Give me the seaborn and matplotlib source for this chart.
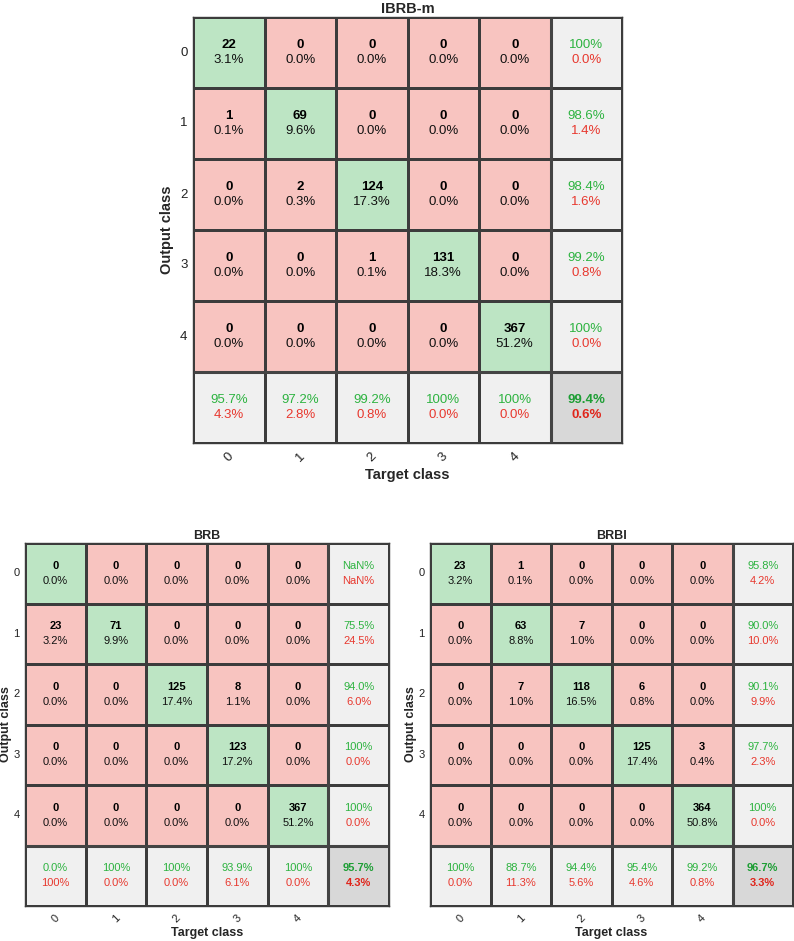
import numpy as np
import matplotlib
matplotlib.use("Agg")
import matplotlib.pyplot as plt
import seaborn as sns
from matplotlib.colors import ListedColormap

sns.set_theme(style="white")
plt.rcParams['font.family'] = ['Liberation Sans', 'DejaVu Sans']

classes = ["0", "1", "2", "3", "4"]

ibrb_m_counts = [
    [22, 0, 0, 0, 0],
    [1, 69, 0, 0, 0],
    [0, 2, 124, 0, 0],
    [0, 0, 1, 131, 0],
    [0, 0, 0, 0, 367],
]
brb_counts = [
    [0, 0, 0, 0, 0],
    [23, 71, 0, 0, 0],
    [0, 0, 125, 8, 0],
    [0, 0, 0, 123, 0],
    [0, 0, 0, 0, 367],
]
brbi_counts = [
    [23, 1, 0, 0, 0],
    [0, 63, 7, 0, 0],
    [0, 7, 118, 6, 0],
    [0, 0, 0, 125, 3],
    [0, 0, 0, 0, 364],
]

GREEN = "#BDE5C4"
PINK = "#F8C4C0"
GRAY = "#F0F0F0"
DGRAY = "#D8D8D8"
TXT_G = "#2DB340"
TXT_R = "#E8382E"


def fmt(p):
    if np.isnan(p):
        return "NaN%"
    if abs(p - 100) < 1e-9:
        return "100%"
    return f"{p:.1f}%"


def draw(ax, counts, title, fs, tfs, lfs, ylpad, xlpad, off):
    c = np.array(counts, dtype=float)
    n = c.shape[0]
    total = c.sum()
    cat = np.full((n + 1, n + 1), 1)
    for i in range(n):
        cat[i, i] = 0
    cat[n, :] = 2
    cat[:, n] = 2
    cat[n, n] = 3
    sns.heatmap(cat, ax=ax, cmap=ListedColormap([GREEN, PINK, GRAY, DGRAY]),
                vmin=-0.5, vmax=3.5, cbar=False, linewidths=0.75,
                linecolor="#3c3c3c", square=False)
    up, dn = 0.5 - off, 0.5 + off

    def pair(x, y, a, b, ca, cb, wa, wb):
        ax.text(x, y + up, a, ha="center", va="center", fontsize=fs, fontweight=wa, color=ca)
        ax.text(x, y + dn, b, ha="center", va="center", fontsize=fs, fontweight=wb, color=cb)

    for i in range(n):
        for j in range(n):
            pair(j + 0.5, i, f"{int(c[i, j])}", fmt(100 * c[i, j] / total),
                 "black", "#111111", "bold", "normal")
    for i in range(n):
        s = c[i, :].sum()
        p = 100 * c[i, i] / s if s > 0 else np.nan
        q = 100 - p if s > 0 else np.nan
        pair(n + 0.5, i, fmt(p), fmt(q), TXT_G, TXT_R, "normal", "normal")
    for j in range(n):
        s = c[:, j].sum()
        p = 100 * c[j, j] / s if s > 0 else np.nan
        q = 100 - p if s > 0 else np.nan
        pair(j + 0.5, n, fmt(p), fmt(q), TXT_G, TXT_R, "normal", "normal")
    acc = 100 * np.trace(c) / total
    pair(n + 0.5, n, fmt(acc), fmt(100 - acc), "#1E9E35", "#E0251B", "bold", "bold")

    ax.axhline(n, color="#444444", lw=2.2)
    ax.axvline(n, color="#444444", lw=2.2)
    for sp in ax.spines.values():
        sp.set_visible(True)
        sp.set_color("#3c3c3c")
        sp.set_linewidth(1.0)
    ax.set_xticks(np.arange(n) + 0.5)
    ax.set_xticklabels(classes, rotation=45, fontsize=tfs, color="#222222")
    ax.set_yticks(np.arange(n) + 0.5)
    ax.set_yticklabels(classes, rotation=0, fontsize=tfs, color="#222222")
    ax.tick_params(axis="y", length=0, pad=4)
    ax.tick_params(axis="x", length=0, pad=5)
    ax.set_title(title, fontsize=lfs, fontweight="bold", pad=3)
    ax.set_xlabel("Target class", fontsize=lfs, fontweight="bold", labelpad=xlpad)
    ax.set_ylabel("Output class", fontsize=lfs, fontweight="bold", labelpad=ylpad)


W, H = 794, 941
fig = plt.figure(figsize=(W / 100, H / 100), dpi=100)
ax1 = fig.add_axes([193 / W, 1 - 443 / H, 429 / W, 426 / H])
ax2 = fig.add_axes([25 / W, 1 - 906 / H, 364 / W, 363 / H])
ax3 = fig.add_axes([430 / W, 1 - 906 / H, 363 / W, 363 / H])

draw(ax1, ibrb_m_counts, "IBRB-m", 9.5, 9.5, 10.5, 4, 3, 0.105)
draw(ax2, brb_counts, "BRB", 8, 8, 9, 1, 2, 0.12)
draw(ax3, brbi_counts, "BRBI", 8, 8, 9, 1, 2, 0.12)

fig.savefig("out.png", dpi=100)
